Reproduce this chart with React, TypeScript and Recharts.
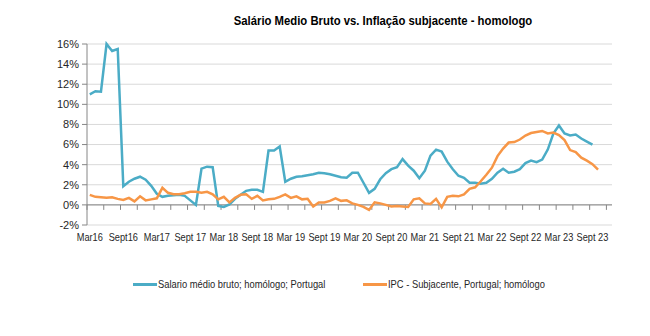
import React from "react";
import { LineChart, Line, XAxis, YAxis, CartesianGrid, ReferenceLine } from "recharts";

const monthNames = ["Jan", "Feb", "Mar", "Apr", "May", "Jun", "Jul", "Aug", "Sep", "Oct", "Nov", "Dec"];
const startYear = 2016;
const startMonth = 2; // March
const categoryCount = 94; // Mar 2016 .. Dec 2023

const categories: string[] = [];
for (let k = 0; k < categoryCount; k++) {
  const mi = (startMonth + k) % 12;
  const y = startYear + Math.floor((startMonth + k) / 12);
  categories.push(`${monthNames[mi]} ${y}`);
}

const tickLabels = [
  "Mar16", "Sept16", "Mar17", "Sept 17", "Mar 18", "Sept 18", "Mar 19", "Sept 19",
  "Mar 20", "Sept 20", "Mar 21", "Sept 21", "Mar 22", "Sept 22", "Mar 23", "Sept 23",
];

const salario = [
  11.0, 11.3, 11.25, 16.0, 15.3, 15.5, 1.85, 2.3, 2.6, 2.8,
  2.5, 1.9, 1.1, 0.8, 0.9, 0.95, 1.0, 0.9, 0.45, 0.0,
  3.6, 3.8, 3.75, -0.1, -0.2, 0.05, 0.6, 1.0, 1.4, 1.5,
  1.5, 1.3, 5.4, 5.4, 5.8, 2.3, 2.6, 2.8, 2.85, 2.95,
  3.05, 3.2, 3.15, 3.05, 2.9, 2.75, 2.7, 3.2, 3.2, 2.2,
  1.2, 1.6, 2.55, 3.15, 3.55, 3.75, 4.55, 3.9, 3.4, 2.65,
  3.4, 4.9, 5.5, 5.3, 4.3, 3.55, 2.9, 2.7, 2.2, 2.2,
  2.1, 2.2, 2.6, 3.2, 3.6, 3.2, 3.3, 3.55, 4.15, 4.4,
  4.25, 4.5, 5.5, 7.1, 7.9, 7.1, 6.9, 7.0, 6.6, 6.3,
  6.0,
];

const ipc = [
  1.0, 0.8, 0.75, 0.7, 0.75, 0.6, 0.5, 0.7, 0.35, 0.85,
  0.45, 0.55, 0.65, 1.7, 1.2, 1.05, 1.05, 1.15, 1.3, 1.3,
  1.2, 1.3, 1.05, 0.55, 0.8, 0.25, 0.7, 1.0, 1.05, 0.6,
  0.9, 0.45, 0.55, 0.6, 0.8, 1.05, 0.7, 0.85, 0.55, 0.6,
  -0.15, 0.25, 0.25, 0.4, 0.65, 0.4, 0.45, 0.15, 0.0, -0.2,
  -0.5, 0.25, 0.15, 0.0, -0.15, -0.1, -0.15, -0.2, 0.55, 0.65,
  0.15, 0.1, 0.6, -0.25, 0.8, 0.9, 0.85, 1.05, 1.6, 1.75,
  2.35, 3.0, 3.7, 4.85, 5.6, 6.2, 6.25, 6.5, 6.9, 7.15,
  7.25, 7.35, 7.1, 7.2, 6.95, 6.45, 5.45, 5.25, 4.7, 4.4,
  4.05, 3.5,
];

const yTicks = [-2, 0, 2, 4, 6, 8, 10, 12, 14, 16];

const seriesNames = {
  salario: "Salario médio bruto; homólogo; Portugal",
  ipc: "IPC - Subjacente, Portugal; homólogo",
};

const colors = { salario: "#4BACC6", ipc: "#F79646" };

const data = categories.map((m, i) => ({
  m,
  salario: i < salario.length ? salario[i] : null,
  ipc: i < ipc.length ? ipc[i] : null,
}));

const sans = "'Liberation Sans', Arial, sans-serif";

const XTick = (props: any) => {
  const { x, y, index } = props;
  if (index % 6 !== 0) return null;
  const label = tickLabels[index / 6];
  if (!label) return null;
  return (
    <g transform={`translate(${x},${y})`}>
      <text x={0} y={0} dy={8} transform="scale(0.84,1)" textAnchor="middle" fontFamily={sans} fontSize={11} fill="#262626">
        {label}
      </text>
    </g>
  );
};

const ZeroAxis = (props: any) => {
  const { x1, y1, x2, y2 } = props;
  const step = (x2 - x1) / categoryCount;
  const marks: React.ReactNode[] = [];
  for (let k = 0; k <= categoryCount; k += 3) {
    const xx = x1 + k * step;
    marks.push(<line key={k} x1={xx} x2={xx} y1={y1} y2={y1 + 5} stroke="#868686" strokeWidth={1} />);
  }
  return (
    <g>
      <line x1={x1} y1={y1} x2={x2} y2={y2} stroke="#868686" strokeWidth={1} />
      {marks}
    </g>
  );
};

const legendItem = (left: number, color: string, label: string) => (
  <div
    style={{
      position: "absolute",
      left,
      top: 278,
      display: "flex",
      alignItems: "center",
      fontFamily: sans,
      fontSize: 11,
      color: "#262626",
      whiteSpace: "nowrap",
    }}
  >
    <span style={{ display: "inline-block", width: 24, height: 3, background: color, marginRight: 1 }} />
    <span style={{ display: "inline-block", transform: "scaleX(0.85)", transformOrigin: "left center" }}>{label}</span>
  </div>
);

export default function App() {
  return (
    <div style={{ position: "absolute", left: 0, top: 0, width: 650, height: 336, background: "#fff", overflow: "hidden" }}>
      <div
        style={{
          position: "absolute",
          left: 383,
          top: 13,
          transform: "translateX(-50%) scaleX(0.87)",
          whiteSpace: "nowrap",
          fontFamily: sans,
          fontWeight: "bold",
          fontSize: 13,
          color: "#000",
        }}
      >
        Salário Medio Bruto vs. Inflação subjacente - homologo
      </div>
      <LineChart
        width={650}
        height={336}
        data={data}
        margin={{ top: 44, right: 38, bottom: 81, left: 0 }}
      >
        <CartesianGrid vertical={false} stroke="#d9d9d9" />
        <XAxis
          dataKey="m"
          scale="band"
          interval={0}
          tickLine={false}
          axisLine={false}
          height={30}
          tick={<XTick />}
        />
        <YAxis
          width={87}
          domain={[-2, 16]}
          ticks={yTicks}
          tickFormatter={(v: number) => `${v}%`}
          axisLine={{ stroke: "#868686" }}
          tickLine={{ stroke: "#868686" }}
          tickSize={5}
          tickMargin={3}
          tick={{ fontFamily: sans, fontSize: 11, fill: "#262626" }}
          interval={0}
        />
        <ReferenceLine y={0} shape={<ZeroAxis />} />
        <Line
          type="linear"
          dataKey="salario"
          name={seriesNames.salario}
          stroke={colors.salario}
          strokeWidth={2.5}
          dot={false}
          isAnimationActive={false}
        />
        <Line
          type="linear"
          dataKey="ipc"
          name={seriesNames.ipc}
          stroke={colors.ipc}
          strokeWidth={2.5}
          dot={false}
          isAnimationActive={false}
        />
      </LineChart>
      {legendItem(133, colors.salario, seriesNames.salario)}
      {legendItem(363, colors.ipc, seriesNames.ipc)}
    </div>
  );
}
